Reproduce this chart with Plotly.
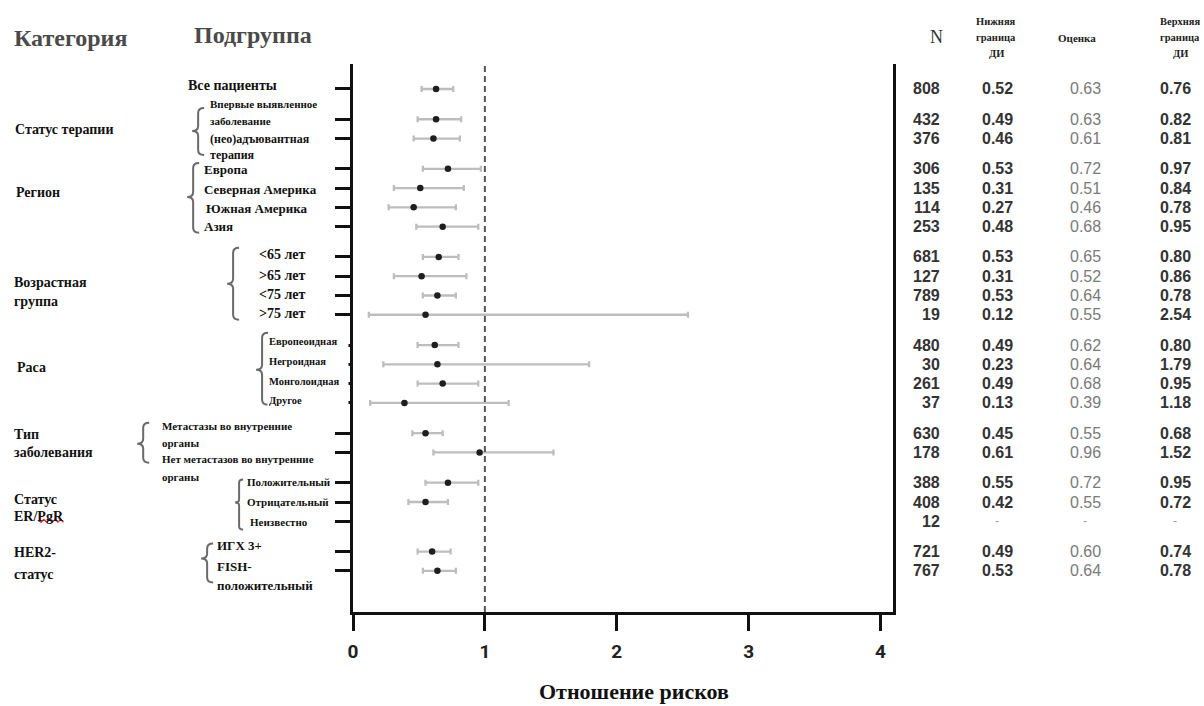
import plotly.graph_objects as go

# ---------------- data ----------------
categories = [["Статус терапии"], ["Регион"], ["Возрастная", "группа"], ["Раса"],
              ["Тип", "заболевания"], ["Статус", "ER/PgR"], ["HER2-", "статус"]]
subgroup_lines = [
    ["Все пациенты"],
    ["Впервые выявленное", "заболевание"],
    ["(нео)адъювантная", "терапия"],
    ["Европа"], ["Северная Америка"], ["Южная Америка"], ["Азия"],
    ["<65 лет"], [">65 лет"], ["<75 лет"], [">75 лет"],
    ["Европеоидная"], ["Негроидная"], ["Монголоидная"], ["Другое"],
    ["Метастазы во внутренние", "органы"], ["Нет метастазов во внутренние", "органы"],
    ["Положительный"], ["Отрицательный"], ["Неизвестно"],
    ["ИГХ 3+"], ["FISH-", "положительный"],
]
group_of_row = [0, 1, 1, 2, 2, 2, 2, 3, 3, 3, 3, 4, 4, 4, 4, 5, 5, 6, 6, 6, 7, 7]
n_values = [808, 432, 376, 306, 135, 114, 253, 681, 127, 789, 19, 480, 30, 261, 37,
            630, 178, 388, 408, 12, 721, 767]
lower_ci = [0.52, 0.49, 0.46, 0.53, 0.31, 0.27, 0.48, 0.53, 0.31, 0.53, 0.12, 0.49, 0.23,
            0.49, 0.13, 0.45, 0.61, 0.55, 0.42, None, 0.49, 0.53]
estimate = [0.63, 0.63, 0.61, 0.72, 0.51, 0.46, 0.68, 0.65, 0.52, 0.64, 0.55, 0.62, 0.64,
            0.68, 0.39, 0.55, 0.96, 0.72, 0.55, None, 0.60, 0.64]
upper_ci = [0.76, 0.82, 0.81, 0.97, 0.84, 0.78, 0.95, 0.80, 0.86, 0.78, 2.54, 0.80, 1.79,
            0.95, 1.18, 0.68, 1.52, 0.95, 0.72, None, 0.74, 0.78]
x_ticks = [0, 1, 2, 3, 4]
x_title = "Отношение рисков"
header_category = "Категория"
header_subgroup = "Подгруппа"
table_headers = [["N"], ["Нижняя", "граница", "ДИ"], ["Оценка"], ["Верхняя", "граница", "ДИ"]]

# ---------------- geometry (page pixels) ----------------
W, H = 1204, 706
PLOT_L, PLOT_R, PLOT_T, PLOT_B = 353, 893.5, 64, 612.5
ML, MT, MR, MB = PLOT_L, PLOT_T, W - PLOT_R, H - PLOT_B
PW = PLOT_R - PLOT_L
PH = PLOT_B - PLOT_T
PX_PER_UNIT = 132.0
ROW_PX = 19.3
ROW0_PX = 89
GROUP_GAP = 1.57


def px(x):
    return (x - PLOT_L) / PW


def py(y):
    return 1 - (y - PLOT_T) / PH


pos = []
for i, g in enumerate(group_of_row):
    if i == 0:
        pos.append(0.0)
    else:
        pos.append(pos[-1] + (1.0 if g == group_of_row[i - 1] else GROUP_GAP))


def row_px(i):
    return ROW0_PX + pos[i] * ROW_PX


y_top = -(ROW0_PX - PLOT_T) / ROW_PX
y_bot = (PLOT_B - ROW0_PX) / ROW_PX
x_max = PW / PX_PER_UNIT

SERIF = "Liberation Serif, Times New Roman, DejaVu Serif, serif"
SANS = "Liberation Sans, Arial, DejaVu Sans, sans-serif"

fig = go.Figure()

valid = [i for i in range(len(estimate)) if estimate[i] is not None]
fig.add_trace(go.Scatter(
    x=[estimate[i] for i in valid],
    y=[pos[i] for i in valid],
    mode="markers",
    marker=dict(color="#1e1e1e", size=6.5, symbol="circle"),
    error_x=dict(type="data", symmetric=False,
                 array=[upper_ci[i] - estimate[i] for i in valid],
                 arrayminus=[estimate[i] - lower_ci[i] for i in valid],
                 color="#bdbdbd", thickness=2.3, width=3),
    showlegend=False, hoverinfo="skip",
))

annotations = []
shapes = []


def add_text(x, y, text, size, color="#111", family=SERIF, bold=True, anchor="left",
             bg=None, width=None):
    t = f"<b>{text}</b>" if bold else text
    a = dict(x=px(x), y=py(y), xref="paper", yref="paper", text=t, showarrow=False,
             xanchor=anchor, yanchor="middle", font=dict(family=family, size=size, color=color),
             align=anchor if anchor != "center" else "center")
    if bg:
        a["bgcolor"] = bg
    if width:
        a["width"] = width
    annotations.append(a)


# headers
add_text(12, 38, header_category, 24, color="#4a4a4a")
add_text(192, 35, header_subgroup, 24, color="#4a4a4a")

# category labels
cat_layout = [(13, [130]), (14, [193]), (12, [283, 302]), (15, [368]),
              (12, [435, 453]), (12, [500, 517]), (12, [553, 575])]
for lines, (cx, ys) in zip(categories, cat_layout):
    for line, yy in zip(lines, ys):
        add_text(cx, yy, line, 14)

# red spell-check squiggle under "PgR"
zz = "M {} {}".format(px(38), py(521))
for k in range(1, 10):
    xx = 38 + k * 2.8
    yy = 521 + (1.6 if k % 2 else -1.2)
    zz += " L {} {}".format(px(xx), py(yy))
shapes.append(dict(type="path", xref="paper", yref="paper", path=zz,
                   line=dict(color="#e02020", width=1.3)))

# subgroup labels
sub_layout = [
    (186, [86], 14),
    (208, [104, 121], 11), (208, [139, 155], 12),
    (202, [170], 13), (202, [190], 13), (204, [209], 13), (202, [227], 13),
    (257, [255], 14), (257, [276], 14), (257, [295], 14), (257, [314], 14),
    (267, [342], 10.5), (267, [362], 10.5), (267, [382], 10.5), (267, [401], 10.5),
    (160, [426, 443], 11), (160, [459, 477], 11),
    (245, [482], 11), (245, [502], 11), (248, [522], 11),
    (215, [546], 13), (215, [567, 586], 13),
]
for i, (lines, (sx, ys, fs)) in enumerate(zip(subgroup_lines, sub_layout)):
    for line, yy in zip(lines, ys):
        bg = "white" if group_of_row[i] in (4, 6) else None
        add_text(sx, yy, line, fs, bg=bg, width=(78 if group_of_row[i] == 4 else None))


def brace(xs, ytop, ybot, ymid, tip=6, arm=6, r=5):
    xt = xs - tip
    xr = xs + arm
    pts = [
        f"M {px(xr)} {py(ytop)}",
        f"Q {px(xs)} {py(ytop)} {px(xs)} {py(ytop + r)}",
        f"L {px(xs)} {py(ymid - r)}",
        f"Q {px(xs)} {py(ymid)} {px(xt)} {py(ymid)}",
        f"Q {px(xs)} {py(ymid)} {px(xs)} {py(ymid + r)}",
        f"L {px(xs)} {py(ybot - r)}",
        f"Q {px(xs)} {py(ybot)} {px(xr)} {py(ybot)}",
    ]
    shapes.append(dict(type="path", xref="paper", yref="paper", path=" ".join(pts),
                       line=dict(color="#6a6a6a", width=2)))


brace(198, 108, 155, 131)
brace(193, 163, 233, 197)
brace(233, 248, 320, 284)
brace(262, 333, 405, 370)
brace(143, 423, 463, 444)
brace(239, 480, 530, 503, tip=4, arm=4, r=3)
brace(207, 544, 583, 559)

# dashed reference line at HR = 1
shapes.append(dict(type="line", xref="x", yref="paper", x0=1, x1=1, y0=0, y1=1,
                   line=dict(color="#555", width=2, dash="6px,4px")))

# table headers
add_text(929, 37, table_headers[0][0], 18, color="#333", bold=False)
for line, yy in zip(table_headers[1], [21, 37, 53]):
    add_text(997, yy, line, 10.5, color="#222", anchor="center")
add_text(1078, 38, table_headers[2][0], 11, color="#222", anchor="center")
for line, yy in zip(table_headers[3], [21, 37, 53]):
    add_text(1181, yy, line, 10.5, color="#222", anchor="center")


def fmt(v):
    return "-" if v is None else f"{v:.2f}"


for i in range(len(n_values)):
    yy = row_px(i)
    add_text(943, yy, str(n_values[i]), 16, color="#333", family=SANS, anchor="right")
    if lower_ci[i] is None:
        for cx in (998, 1086, 1176):
            add_text(cx, yy, "-", 12, color="#999", family=SANS, bold=False, anchor="center")
    else:
        add_text(998, yy, fmt(lower_ci[i]), 16, color="#333", family=SANS, anchor="center")
        add_text(1086, yy, fmt(estimate[i]), 16, color="#7a7a7a", family=SANS, bold=False,
                 anchor="center")
        add_text(1176, yy, fmt(upper_ci[i]), 16, color="#333", family=SANS, anchor="center")

# x-axis title
add_text(634, 692, x_title, 22, color="#111", anchor="center")

fig.update_layout(
    width=W, height=H,
    margin=dict(l=ML, r=MR, t=MT, b=MB, pad=0),
    paper_bgcolor="white", plot_bgcolor="white",
    annotations=annotations, shapes=shapes,
    xaxis=dict(range=[0, x_max], tickvals=x_ticks, ticktext=[str(t) for t in x_ticks],
               showgrid=False, zeroline=False, showline=True, linecolor="#111", linewidth=3,
               ticks="outside", ticklen=16, tickwidth=2.5, tickcolor="#111",
               tickfont=dict(family="Roboto, DejaVu Sans, sans-serif", size=19, color="#222",
                             weight="bold"),
               ticklabelstandoff=4, fixedrange=True),
    yaxis=dict(range=[y_bot, y_top], tickvals=pos, showticklabels=False,
               showgrid=False, zeroline=False, showline=True, linecolor="#111", linewidth=3,
               mirror=True, ticks="outside", ticklen=15, tickwidth=2.5, tickcolor="#111",
               fixedrange=True),
)

fig.write_html("out.html", config={"displayModeBar": False},
               post_script="document.body.style.margin='0';document.body.style.overflow='hidden';")
